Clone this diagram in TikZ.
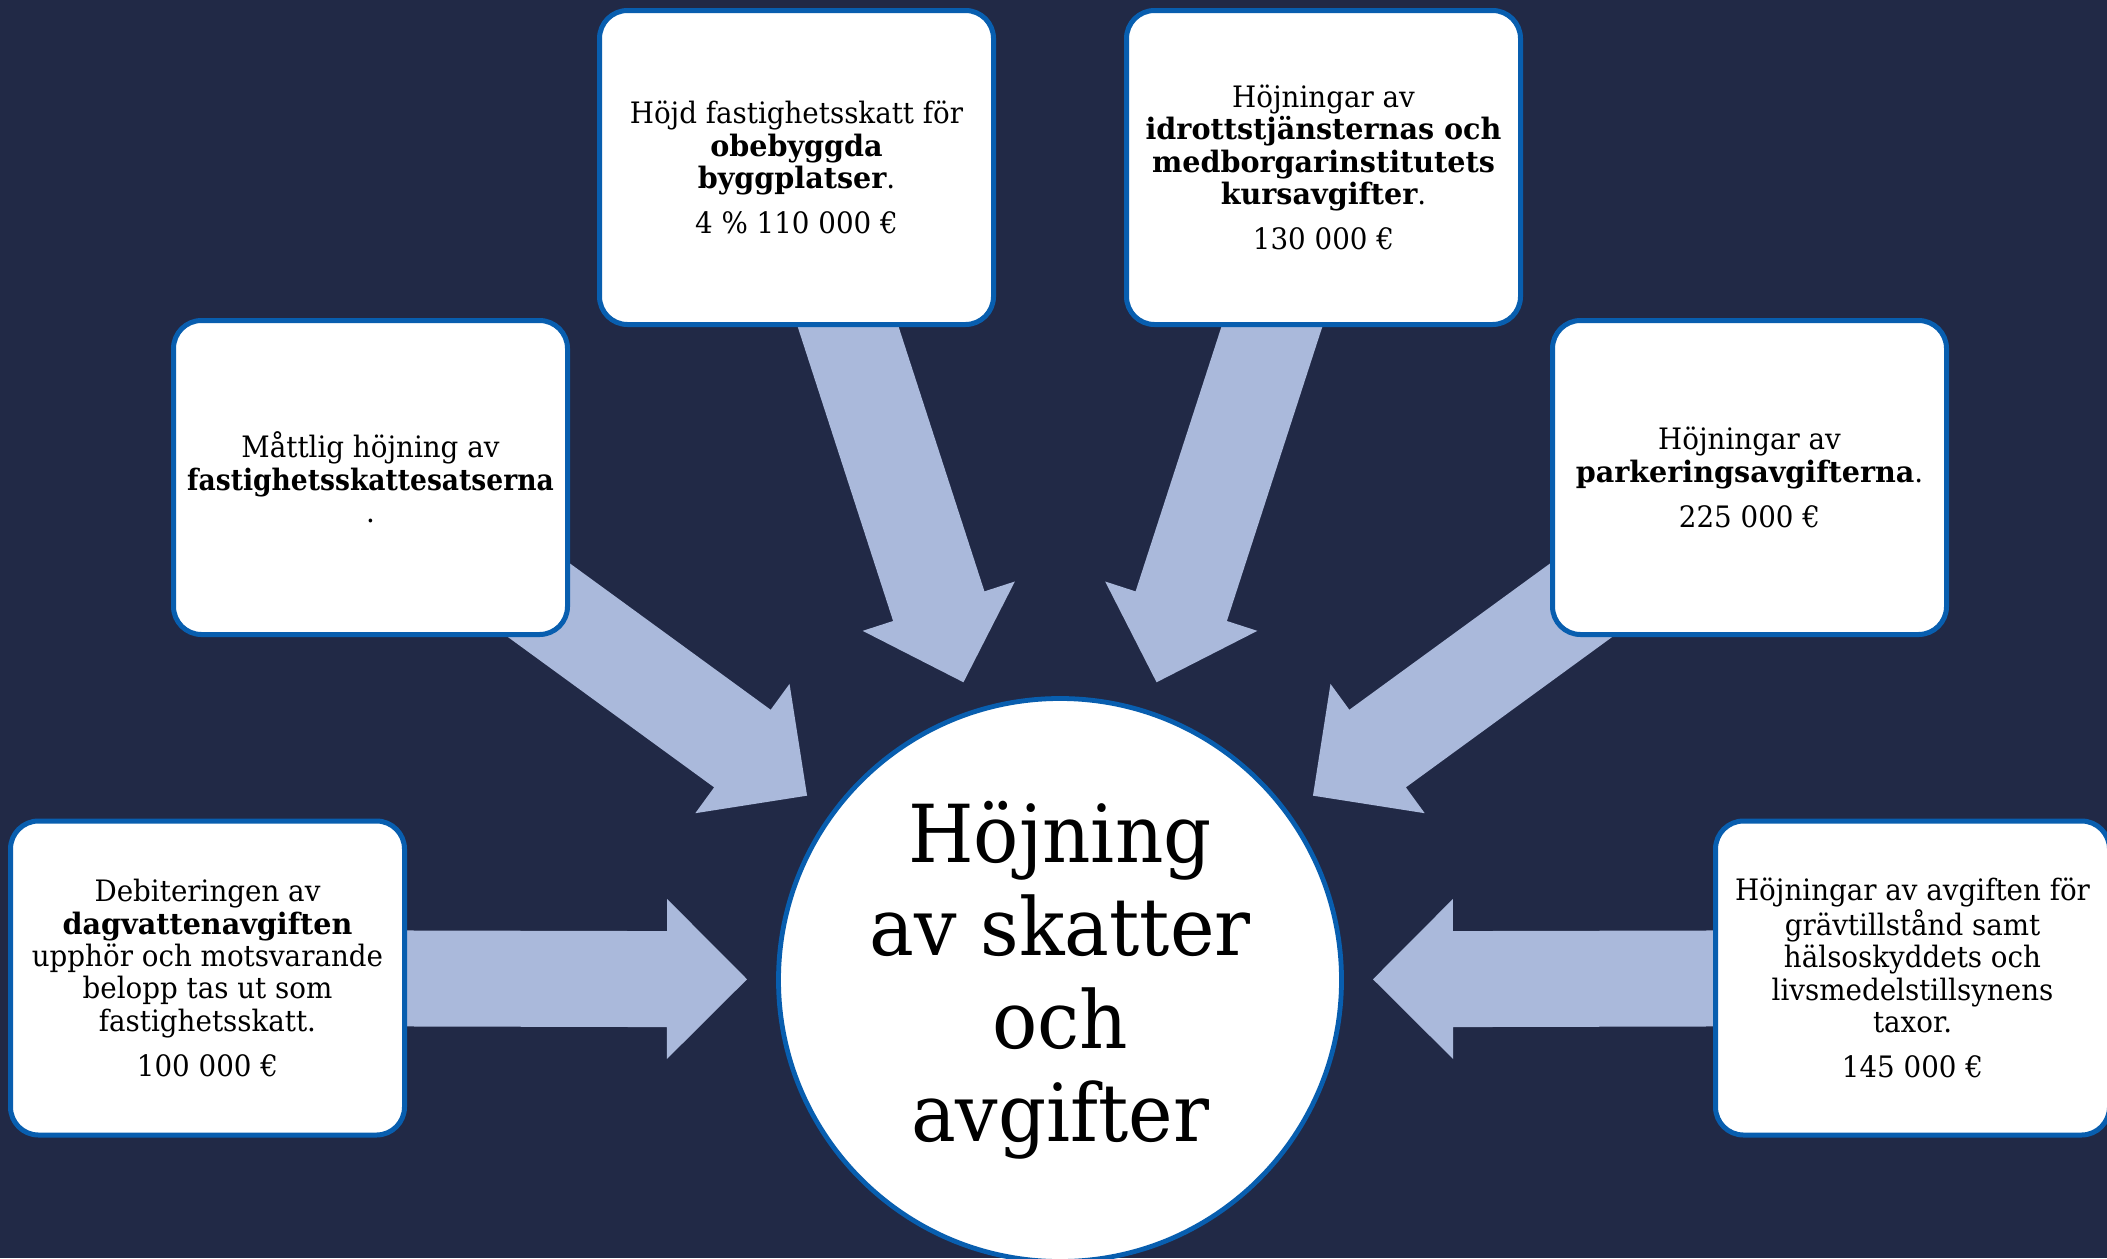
\documentclass[tikz,border=0pt]{standalone}
\usepackage{fontspec}
\setmainfont{DejaVu Serif}[FakeStretch=0.94,BoldFeatures={FakeStretch=0.97}]
\newfontface\narrowbold{DejaVu Serif Bold}[FakeStretch=0.9]
\usetikzlibrary{calc,positioning}
\definecolor{bgc}{RGB}{33,41,70}
\definecolor{arrowc}{RGB}{170,185,219}
\definecolor{borderc}{RGB}{8,94,175}
\pgfdeclarelayer{bglayer}
\pgfdeclarelayer{arrowlayer}
\pgfsetlayers{bglayer,arrowlayer,main}
\newcommand\blockarrow[2]{%
  \coordinate (#1-tip) at ($(#2.center)!156.5pt!(#1.center)$);
  \coordinate (#1-head) at ($(#2.center)!196.5pt!(#1.center)$);
  \fill[arrowc]
    ($(#1.center)!24pt!90:(#1-tip)$) --
    ($(#1-head)!24pt!90:(#1-tip)$) --
    ($(#1-head)!40pt!90:(#1-tip)$) --
    (#1-tip) --
    ($(#1-head)!40pt!-90:(#1-tip)$) --
    ($(#1-head)!24pt!-90:(#1-tip)$) --
    ($(#1.center)!24pt!-90:(#1-tip)$) -- cycle;
}
\tikzset{
  box/.style={draw=borderc, line width=2.5pt, fill=white, rounded corners=14pt,
    minimum width=197pt, minimum height=157pt, inner sep=0pt, align=center,
    font=\fontsize{14.75}{16.2}\selectfont, text=black},
  hub/.style={draw=borderc, line width=2.4pt, fill=white, circle,
    minimum size=281.5pt, inner sep=0pt, align=center,
    font=\fontsize{40}{46.5}\selectfont, text=black}
}
\begin{document}
\begin{tikzpicture}[x=0.5pt,y=-0.5pt]
\useasboundingbox (0,0) rectangle (2107,1258);
\begin{pgfonlayer}{bglayer}
\fill[bgc] (0,0) rectangle (2107,1258);
\end{pgfonlayer}

\node[hub] (c) at (1060,980) {Höjning\\av skatter\\och\\avgifter};

\node[box] (bl) at (207.5,978) {Debiteringen av\\\textbf{dagvattenavgiften}\\upphör och motsvarande\\belopp tas ut som\\fastighetsskatt.\\[6.3pt]100 000 €};
\node[box] (ml) at (370.5,477.5) {Måttlig höjning av\\{\narrowbold fastighetsskattesatserna}\\.};
\node[box] (tl) at (796.5,167.5) {Höjd fastighetsskatt för\\\textbf{obebyggda}\\\textbf{byggplatser}.\\[6.3pt]4 \% 110 000 €};
\node[box] (tr) at (1323.5,167.5) {Höjningar av\\\textbf{idrottstjänsternas och}\\\textbf{medborgarinstitutets}\\\textbf{kursavgifter}.\\[6.3pt]130 000 €};
\node[box] (mr) at (1749.5,477.5) {Höjningar av\\\textbf{parkeringsavgifterna}.\\[6.3pt]225 000 €};
\node[box] (br) at (1912.5,978) {Höjningar av avgiften för\\grävtillstånd samt\\hälsoskyddets och\\livsmedelstillsynens\\taxor.\\[6.3pt]145 000 €};

\begin{pgfonlayer}{arrowlayer}
\blockarrow{bl}{c}
\blockarrow{ml}{c}
\blockarrow{tl}{c}
\blockarrow{tr}{c}
\blockarrow{mr}{c}
\blockarrow{br}{c}
\end{pgfonlayer}
\end{tikzpicture}
\end{document}
